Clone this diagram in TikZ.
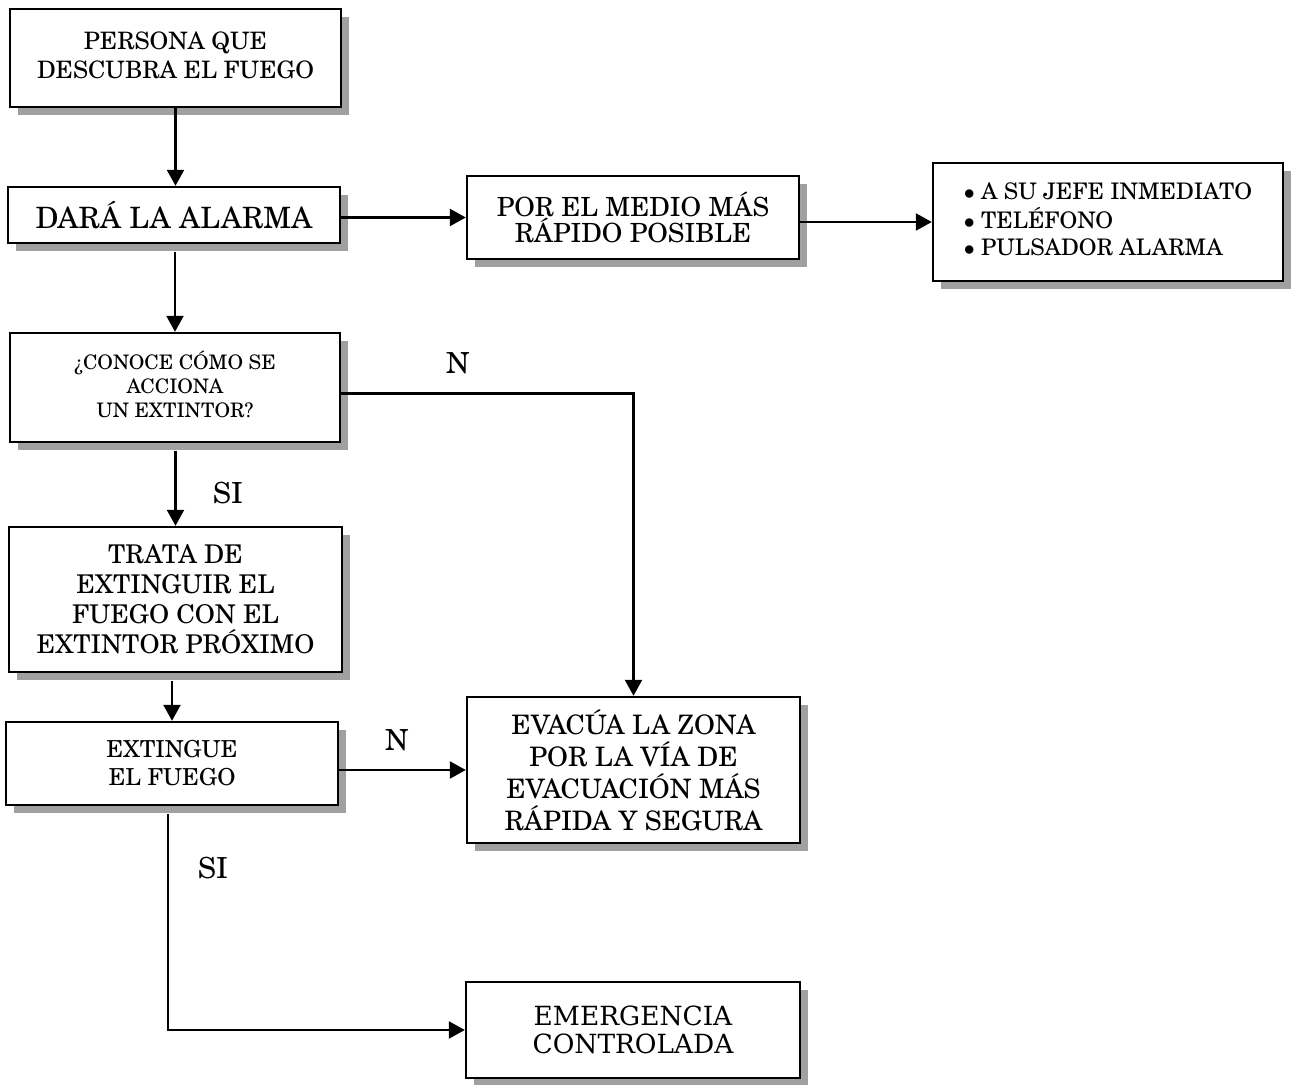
\documentclass[tikz,border=0pt]{standalone}
\usepackage{fontspec}
\setmainfont{texgyreschola}[Extension=.otf,UprightFont=*-regular,BoldFont=*-bold]
\newfontfamily\slab{DejaVu Serif}
\usetikzlibrary{arrows.meta,shadows}
\definecolor{shadowgray}{RGB}{160,160,160}
\newcommand\fsz[2]{\fontsize{#1pt}{#2pt}\selectfont}
\begin{document}
\begin{tikzpicture}[x=0.5pt,y=-0.5pt,
  box/.style={draw, line width=1.2pt, fill=white, align=center, inner sep=0pt,
    drop shadow={shadow xshift=4pt, shadow yshift=-4pt, fill=shadowgray, opacity=1}},
  conn/.style={line width=1.2pt},
  arr/.style={conn, -{Triangle[length=8pt,width=8.5pt]}},
  lab/.style={inner sep=0pt, font=\fsz{14.5}{16}}]
\useasboundingbox[fill=white] (0,0) rectangle (1291,1085);

\node[box, minimum width=165.5pt, minimum height=49pt, font=\fsz{12}{14.5}] (b1) at (175.5,58)
  {\raisebox{3.5pt}{\begin{tabular}{@{}c@{}}PERSONA QUE\\DESCUBRA EL FUEGO\end{tabular}}};
\node[box, minimum width=166pt, minimum height=28pt, font=\fsz{14.7}{17}] (b2) at (174,215)
  {DARÁ LA ALARMA};
\node[box, minimum width=166pt, minimum height=41.5pt, font=\fsz{13.2}{13}] (b3) at (633,217.5)
  {POR EL MEDIO MÁS\\RÁPIDO POSIBLE};
\node[box, minimum width=175pt, minimum height=59pt, font=\fsz{11.4}{13.5}] (b4) at (1108,222)
  {\raisebox{2pt}{\begin{tabular}{@{}l@{}}$\bullet$\ A SU JEFE INMEDIATO\\$\bullet$\ TELÉFONO\\$\bullet$\ PULSADOR ALARMA\end{tabular}}};
\node[box, minimum width=165pt, minimum height=54.5pt, font=\fsz{10}{12}] (b5) at (175,387.5)
  {\raisebox{3.5pt}{\begin{tabular}{@{}c@{}}¿CONOCE CÓMO SE\\ACCIONA\\UN EXTINTOR?\end{tabular}}};
\node[box, minimum width=166.5pt, minimum height=72.5pt, font=\fsz{12.9}{15}] (b6) at (175.5,599.5)
  {TRATA DE\\EXTINGUIR EL\\FUEGO CON EL\\EXTINTOR PRÓXIMO};
\node[box, minimum width=166pt, minimum height=41.5pt, font=\fsz{11.7}{14}] (b7) at (172,763.5)
  {EXTINGUE\\EL FUEGO};
\node[box, minimum width=166.5pt, minimum height=73pt, font=\fsz{13.4}{16}] (b8) at (633.5,770)
  {EVACÚA LA ZONA\\POR LA VÍA DE\\EVACUACIÓN MÁS\\RÁPIDA Y SEGURA};
\node[box, minimum width=167pt, minimum height=48pt, font=\slab\fsz{13.2}{14}] (b9) at (633,1030)
  {EMERGENCIA\\CONTROLADA};

\node[lab] (n1) at (458,363) {N};
\node[lab] (s1) at (228,493) {SI};
\node[lab] (n2) at (397,740) {N};
\node[lab] (s2) at (213,868) {SI};

\draw[arr] (b1.south) -- (b1.south |- b2.north);
\draw[arr] (b2.east |- b3.west) -- (b3.west);
\draw[arr] (b3.east |- b4.west) -- (b4.west);
\draw[arr, shorten <=4pt] (b2.south -| b5.north) -- (b5.north);
\draw[arr] ([yshift=-3pt]b5.east) -| (b8.north);
\draw[arr, shorten <=4pt] (b5.south -| b6.north) -- (b6.north);
\draw[arr, shorten <=4pt] (b6.south -| b7.north) -- (b7.north);
\draw[arr] (b7.east |- b8.west) -- (b8.west);
\draw[arr, shorten <=4pt] ([xshift=-2pt]b7.south) |- (b9.west);
\end{tikzpicture}
\end{document}
